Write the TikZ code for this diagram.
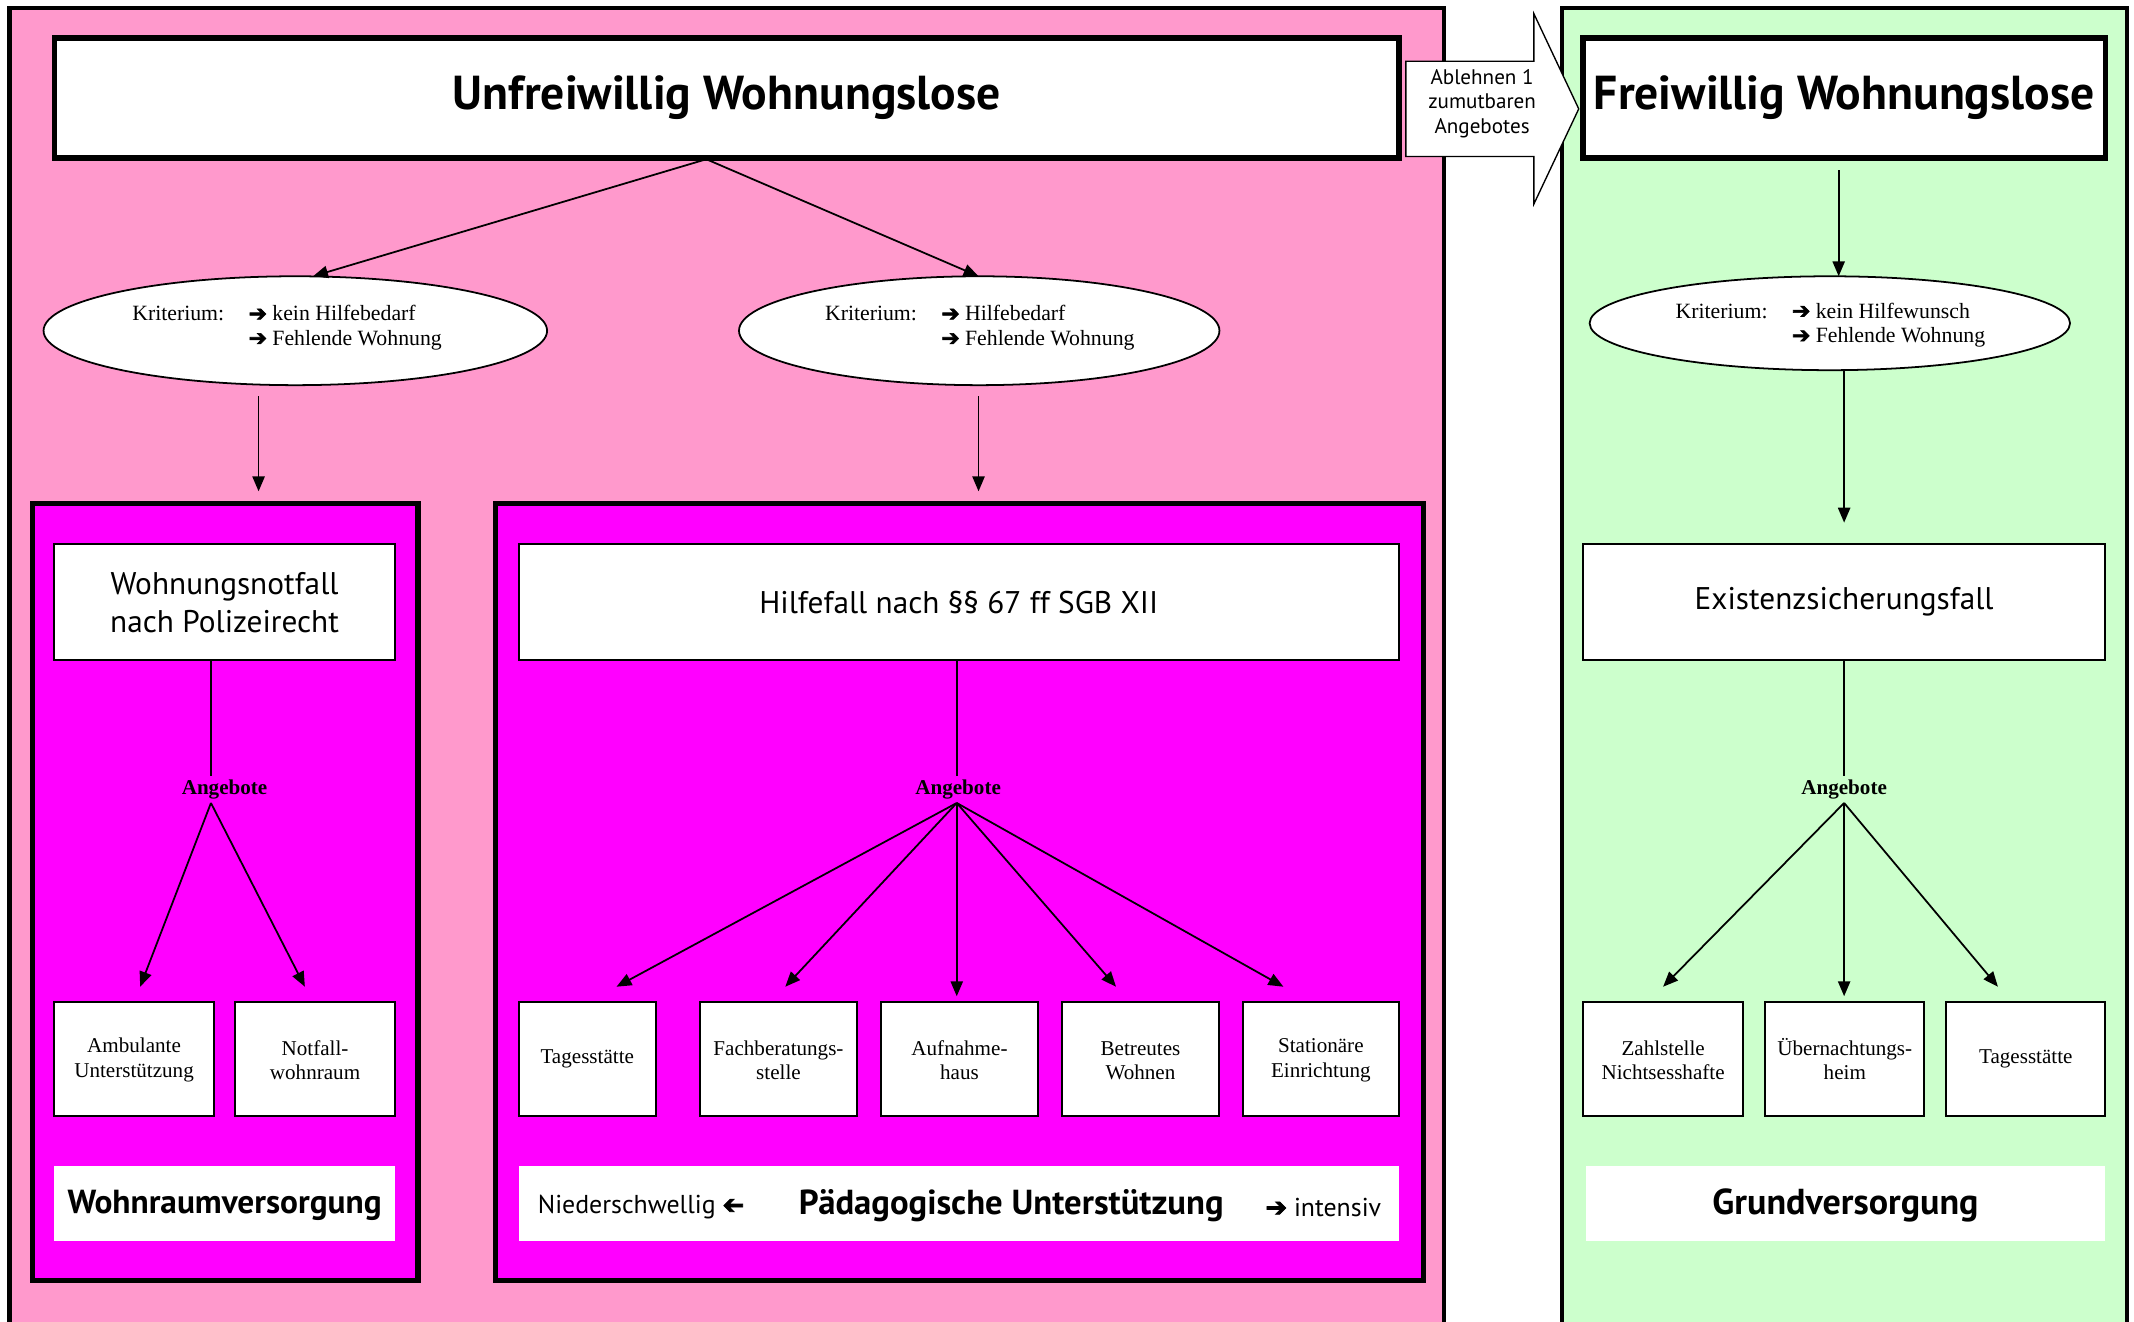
\documentclass[tikz,border=0pt]{standalone}
\usepackage{fontspec}
\usepackage{graphicx}
\setmainfont{Liberation Serif}
\setsansfont{PT Sans}
\newfontfamily\symf{DejaVu Sans}
\usetikzlibrary{arrows.meta,shapes.geometric}
\definecolor{pinkbg}{HTML}{FF99CC}
\definecolor{greenbg}{HTML}{CCFFCC}
\definecolor{magbg}{HTML}{FF00FF}
\newcommand{\myarr}{{\symf\addfontfeature{FakeBold=3}\char"2794}}
\newcommand{\myleft}{{\symf\addfontfeature{FakeBold=3}\reflectbox{\char"2794}}}
\begin{document}
\begin{tikzpicture}[x=1pt,y=-1pt,
  panel/.style={draw=black,line width=3pt},
  titlebox/.style={draw=black,line width=4pt,fill=white,inner sep=0pt,minimum height=88pt,
    font=\sffamily\bfseries\fontsize{35}{40}\selectfont},
  magbox/.style={draw=black,line width=4pt,fill=magbg,inner sep=0pt},
  casebox/.style={draw=black,line width=1.5pt,fill=white,inner sep=0pt,minimum height=85pt,
    align=center,font=\sffamily\fontsize{23}{28}\selectfont},
  offer/.style={draw=black,line width=1.5pt,fill=white,inner sep=0pt,minimum height=84pt,
    align=center,font=\fontsize{15.5}{18}\selectfont},
  lblbox/.style={fill=white,inner sep=0pt,minimum height=55pt},
  lbltext/.style={font=\sffamily\bfseries\fontsize{25.5}{28}\selectfont,inner sep=0pt},
  lbllight/.style={font=\sffamily\fontsize{19}{22}\selectfont,inner sep=0pt},
  ell/.style={ellipse,draw=black,line width=1.3pt,fill=white,inner sep=0pt},
  krit/.style={font=\fontsize{16}{18}\selectfont,inner sep=0pt},
  ang/.style={font=\bfseries\fontsize{15.5}{18}\selectfont,inner sep=1pt},
  conn/.style={line width=1.3pt},
  arr/.style={line width=1.3pt,-{Triangle[length=11pt,width=9pt]}}
]
\useasboundingbox (0,0) rectangle (1568,971);
\fill[white] (0,0) rectangle (1568,971);
% panels
\draw[panel,fill=pinkbg] (7,6) rectangle (1061,995);
\draw[panel,fill=greenbg] (1148,6) rectangle (1563,995);
% transfer arrow
\draw[line width=1pt,fill=white] (1033,45) -- (1127,45) -- (1127,10) -- (1160,80) -- (1127,150) -- (1127,115) -- (1033,115) -- cycle;
\node[align=center,inner sep=0pt,font=\sffamily\fontsize{15.5}{18}\selectfont] (abl) at (1089,76) {Ablehnen 1\\zumutbaren\\Angebotes};
% titles
\node[titlebox,minimum width=988pt] (uw) at (534,72) {Unfreiwillig Wohnungslose};
\node[titlebox,minimum width=384pt] (fw) at (1355,72) {Freiwillig Wohnungslose};
% ellipses
\node[ell,minimum width=370pt,minimum height=80pt] (e1) at (217,243) {};
\node[ell,minimum width=353pt,minimum height=80pt] (e2) at (719.5,243) {};
\node[ell,minimum width=353pt,minimum height=69pt] (e3) at (1344.5,237.5) {};
\node[krit,anchor=north west] (k1) at (97,223) {\begin{tabular}{@{}l@{\hspace{18pt}}l@{}}Kriterium: & \myarr\ kein Hilfebedarf\\ & \myarr\ Fehlende Wohnung\end{tabular}};
\node[krit,anchor=north west] (k2) at (606,223) {\begin{tabular}{@{}l@{\hspace{18pt}}l@{}}Kriterium: & \myarr\ Hilfebedarf\\ & \myarr\ Fehlende Wohnung\end{tabular}};
\node[krit,anchor=north west] (k3) at (1231,221) {\begin{tabular}{@{}l@{\hspace{18pt}}l@{}}Kriterium: & \myarr\ kein Hilfewunsch\\ & \myarr\ Fehlende Wohnung\end{tabular}};
% magenta boxes
\node[magbox,minimum width=283pt,minimum height=571pt] (m1) at (165.5,655.5) {};
\node[magbox,minimum width=682pt,minimum height=571pt] (m2) at (705,655.5) {};
% case boxes
\node[casebox,minimum width=250pt] (wn) at (165,442.5) {Wohnungsnotfall\\nach Polizeirecht};
\node[casebox,minimum width=647pt] (hf) at (704.5,442.5) {Hilfefall nach §§ 67 ff SGB XII};
\node[casebox,minimum width=384pt] (ex) at (1355,442.5) {Existenzsicherungsfall};
% Angebote labels
\node[ang] (ang1) at (165,580) {Angebote};
\node[ang] (ang2) at (704,580) {Angebote};
\node[ang] (ang3) at (1355,580) {Angebote};
% offer boxes
\node[offer,minimum width=117pt] (amb) at (98.5,778) {\strut Ambulante\\Unterstützung};
\node[offer,minimum width=117pt] (notf) at (231.5,778) {\strut Notfall-\\wohnraum};
\node[offer,minimum width=101pt] (tag) at (431.5,778) {Tagesstätte};
\node[offer,minimum width=116pt] (fach) at (572,778) {\strut Fachberatungs-\\stelle};
\node[offer,minimum width=116pt] (auf) at (705,778) {\strut Aufnahme-\\haus};
\node[offer,minimum width=116pt] (bet) at (838,778) {\strut Betreutes\\Wohnen};
\node[offer,minimum width=115pt] (stat) at (970.5,778) {\strut Stationäre\\Einrichtung};
\node[offer,minimum width=118pt] (zahl) at (1222,778) {\strut Zahlstelle\\Nichtsesshafte};
\node[offer,minimum width=117pt] (ueb) at (1355.5,778) {\strut Übernachtungs-\\heim};
\node[offer,minimum width=117pt] (tag2) at (1488.5,778) {Tagesstätte};
% bottom label boxes
\node[lblbox,minimum width=250pt] (l1) at (165,884.5) {};
\node[lbltext,font=\sffamily\bfseries\fontsize{24.5}{28}\selectfont] (l1t) at (165,886) {Wohnraumversorgung};
\node[lblbox,minimum width=647pt] (l2) at (704.5,884.5) {};
\node[lbllight,anchor=west] (l2a) at (395,887) {Niederschwellig \myleft};
\node[lbltext] (l2b) at (743,886) {Pädagogische Unterstützung};
\node[lbllight,anchor=east] (l2c) at (1015,887) {\myarr\ intensiv};
\node[lblbox,minimum width=382pt] (l3) at (1356,884.5) {};
\node[lbltext,font=\sffamily\bfseries\fontsize{26.5}{28}\selectfont] (l3t) at (1356,886) {Grundversorgung};
% coordinates
\coordinate (uwb) at (519,117);
\coordinate (fwb) at (1351,125);
\coordinate (e3t) at (1351,203);
\coordinate (e1t) at (230,203);
\coordinate (e2t) at (719,203);
\coordinate (d1s) at (190,291); \coordinate (d1e) at (190,361);
\coordinate (d2s) at (719,291); \coordinate (d2e) at (719,361);
\coordinate (d3s) at (1355,272); \coordinate (d3e) at (1355,384);
\coordinate (o1) at (155,590); \coordinate (o2) at (703,590); \coordinate (o3) at (1355,590);
\coordinate (c1) at (155,485); \coordinate (c1e) at (155,570);
\coordinate (c2) at (703,485); \coordinate (c2e) at (703,570);
\coordinate (c3) at (1355,485); \coordinate (c3e) at (1355,570);
\coordinate (t-amb) at (103,725); \coordinate (t-notf) at (224,725);
\coordinate (t-tag) at (453,725); \coordinate (t-fach) at (577,725); \coordinate (t-auf) at (703,732);
\coordinate (t-bet) at (820,725); \coordinate (t-stat) at (943,725);
\coordinate (t-zahl) at (1222,725); \coordinate (t-ueb) at (1355,732); \coordinate (t-tag2) at (1468,725);
% connectors
\draw[arr] (uwb) -- (e1t);
\draw[arr] (uwb) -- (e2t);
\draw[arr] (fwb) -- (e3t);
\draw[arr] (d1s) -- (d1e);
\draw[arr] (d2s) -- (d2e);
\draw[arr] (d3s) -- (d3e);
\draw[conn] (c1) -- (c1e);
\draw[conn] (c2) -- (c2e);
\draw[conn] (c3) -- (c3e);
\draw[arr] (o1) -- (t-amb);
\draw[arr] (o1) -- (t-notf);
\draw[arr] (o2) -- (t-tag);
\draw[arr] (o2) -- (t-fach);
\draw[arr] (o2) -- (t-auf);
\draw[arr] (o2) -- (t-bet);
\draw[arr] (o2) -- (t-stat);
\draw[arr] (o3) -- (t-zahl);
\draw[arr] (o3) -- (t-ueb);
\draw[arr] (o3) -- (t-tag2);
\end{tikzpicture}
\end{document}
